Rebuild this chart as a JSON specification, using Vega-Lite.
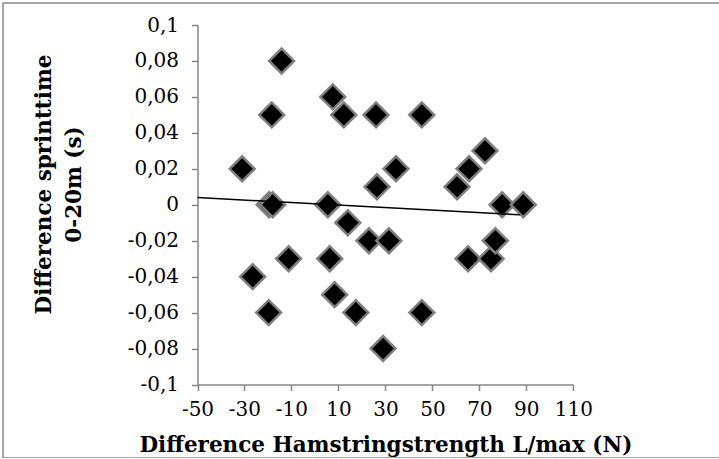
{
  "$schema": "https://vega.github.io/schema/vega-lite/v6.json",
  "width": 720,
  "height": 455,
  "autosize": {"type": "none"},
  "padding": {"left": 3, "top": 3, "right": 0, "bottom": 0},
  "background": "white",
  "config": {
    "view": {"stroke": "#8a8a8a", "strokeWidth": 1.5},
    "font": "DejaVu Serif"
  },
  "layer": [
    {
      "data": {
        "values": [
          {"strength": -31, "sprint": 0.02},
          {"strength": -26.5, "sprint": -0.04},
          {"strength": -19.5, "sprint": 0},
          {"strength": -18, "sprint": 0},
          {"strength": -18.4, "sprint": 0.05},
          {"strength": -14.2, "sprint": 0.08},
          {"strength": -19.7, "sprint": -0.06},
          {"strength": -11.2, "sprint": -0.03},
          {"strength": 5.5, "sprint": 0},
          {"strength": 7.6, "sprint": 0.06},
          {"strength": 12.3, "sprint": 0.05},
          {"strength": 6.3, "sprint": -0.03},
          {"strength": 8.4, "sprint": -0.05},
          {"strength": 14, "sprint": -0.01},
          {"strength": 17.4, "sprint": -0.06},
          {"strength": 23, "sprint": -0.02},
          {"strength": 26, "sprint": 0.05},
          {"strength": 26.4, "sprint": 0.01},
          {"strength": 31.5, "sprint": -0.02},
          {"strength": 34.5, "sprint": 0.02},
          {"strength": 29, "sprint": -0.08},
          {"strength": 45.5, "sprint": 0.05},
          {"strength": 45.5, "sprint": -0.06},
          {"strength": 60.5, "sprint": 0.01},
          {"strength": 65.6, "sprint": 0.02},
          {"strength": 72.4, "sprint": 0.03},
          {"strength": 65.2, "sprint": -0.03},
          {"strength": 75, "sprint": -0.03},
          {"strength": 76.8, "sprint": -0.02},
          {"strength": 79.7, "sprint": 0},
          {"strength": 88.7, "sprint": 0}
        ]
      },
      "mark": {
        "type": "point",
        "shape": "diamond",
        "filled": true,
        "color": "black",
        "stroke": "#7f7f7f",
        "strokeWidth": 2.5,
        "size": 620,
        "opacity": 1
      },
      "encoding": {
        "x": {
          "field": "strength",
          "type": "quantitative",
          "scale": {"domain": [-50, 110], "range": [194.5, 570.3], "nice": false, "zero": false},
          "axis": {
            "orient": "bottom",
            "offset": -73.5,
            "values": [-50, -30, -10, 10, 30, 50, 70, 90, 110],
            "labelExpr": "'' + datum.value",
            "labelFlush": false,
            "labelOverlap": false,
            "grid": false,
            "domainColor": "#868686",
            "domainWidth": 1.5,
            "tickColor": "#868686",
            "tickWidth": 1.5,
            "tickSize": 6,
            "labelFontSize": 20,
            "labelColor": "black",
            "labelPadding": 9,
            "labelFont": "DejaVu Serif",
            "title": "Difference Hamstringstrength L/max (N)",
            "titleFont": "DejaVu Serif",
            "titleFontSize": 21.5,
            "titleFontWeight": "bold",
            "titleColor": "black",
            "titlePadding": 15
          }
        },
        "y": {
          "field": "sprint",
          "type": "quantitative",
          "scale": {"domain": [-0.1, 0.1], "range": [381.5, 22], "nice": false, "zero": false},
          "axis": {
            "orient": "left",
            "offset": -194.5,
            "values": [-0.1, -0.08, -0.06, -0.04, -0.02, 0, 0.02, 0.04, 0.06, 0.08, 0.1],
            "labelExpr": "replace('' + datum.value, '.', ',')",
            "labelOverlap": false,
            "labelFlush": false,
            "grid": false,
            "domainColor": "#868686",
            "domainWidth": 1.5,
            "tickColor": "#868686",
            "tickWidth": 1.5,
            "tickSize": 6,
            "labelFontSize": 20,
            "labelColor": "black",
            "labelPadding": 13,
            "labelFont": "DejaVu Serif",
            "title": ["Difference sprinttime", "0-20m (s)"],
            "titleFont": "DejaVu Serif",
            "titleFontSize": 21.5,
            "titleFontWeight": "bold",
            "titleColor": "black",
            "titleLineHeight": 30,
            "titlePadding": 42,
            "titleY": 181
          }
        }
      }
    },
    {
      "data": {
        "values": [
          {"strength": -50, "sprint": 0.004},
          {"strength": 87.4, "sprint": -0.0056}
        ]
      },
      "mark": {"type": "line", "color": "black", "strokeWidth": 1.5},
      "encoding": {
        "x": {"field": "strength", "type": "quantitative"},
        "y": {"field": "sprint", "type": "quantitative"}
      }
    }
  ]
}
